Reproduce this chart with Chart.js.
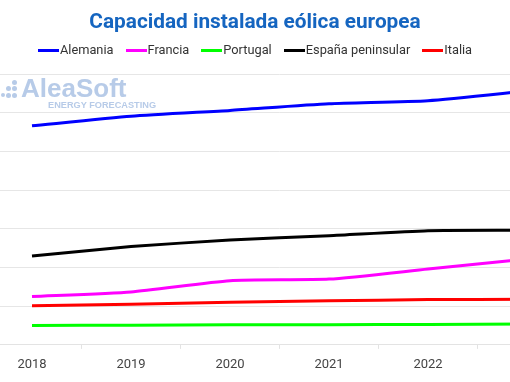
<!DOCTYPE html>
<html>
<head>
<meta charset="utf-8">
<script src="https://cdn.jsdelivr.net/npm/chart.js@4.4.0/dist/chart.umd.min.js"></script>
<style>
  html,body{margin:0;padding:0;background:#fff;}
  #wrap{position:relative;width:510px;height:382px;overflow:hidden;background:#fff;}
  #cv{position:absolute;left:-40px;top:0;}
  #title{position:absolute;left:0;top:8px;width:510px;text-align:center;font-family:Roboto,"Noto Sans",sans-serif;font-weight:700;font-size:20.8px;color:#1565c0;line-height:26px;}
  #legend{position:absolute;left:0;top:41px;width:510px;display:flex;justify-content:center;font-family:Roboto,"Noto Sans",sans-serif;font-size:12.8px;color:#333;line-height:18px;}
  .li{display:flex;align-items:center;margin:0 6px;}
  .sw{display:inline-block;width:21px;height:3px;margin-right:1px;}
  #logo{position:absolute;left:0;top:74px;color:#b7cbe8;font-family:"Liberation Sans",Arial,sans-serif;font-weight:700;}
  #logo .big{position:absolute;left:21px;top:0;font-size:26px;line-height:28px;white-space:nowrap;}
  #logo .small{position:absolute;left:48px;top:26px;font-size:9.2px;line-height:10px;white-space:nowrap;}
  .dot{position:absolute;width:5px;height:5px;border-radius:50%;background:#b7cbe8;}
</style>
</head>
<body>
<div id="wrap">
  <canvas id="cv" width="640" height="382"></canvas>
  <div id="logo">
    <div class="dot" style="left:1px;top:19px;width:4px;height:4px"></div>
    <div class="dot" style="left:6px;top:12px"></div>
    <div class="dot" style="left:6px;top:19px"></div>
    <div class="dot" style="left:12px;top:6px"></div>
    <div class="dot" style="left:12px;top:12px"></div>
    <div class="dot" style="left:12px;top:19px"></div>
    <div class="big">AleaSoft</div>
    <div class="small">ENERGY FORECASTING</div>
  </div>
  <div id="title">Capacidad instalada eólica europea</div>
  <div id="legend"></div>
</div>
<script>
const years = ["2018", "2019", "2020", "2021", "2022", "2023"];
const seriesNames = ["Alemania", "Francia", "Portugal", "España peninsular", "Italia"];
const seriesColors = ["#0000ff", "#ff00ff", "#00ff00", "#000000", "#ff0000"];
const alemania = [56600, 59100, 60600, 62300, 63100, 65600];
const francia = [12500, 13700, 16600, 17000, 19600, 22200];
const portugal = [5000, 5100, 5200, 5200, 5300, 5400];
const espana = [23000, 25400, 27100, 28200, 29500, 29600];
const italia = [10100, 10500, 11000, 11400, 11700, 11800];
const yMin = 0, yMax = 70000, yStep = 10000;

const allData = [alemania, francia, portugal, espana, italia];

const leg = document.getElementById('legend');
seriesNames.forEach((n, i) => {
  const d = document.createElement('div');
  d.className = 'li';
  d.innerHTML = '<span class="sw" style="background:' + seriesColors[i] + '"></span><span>' + n + '</span>';
  leg.appendChild(d);
});

new Chart(document.getElementById('cv'), {
  type: 'line',
  data: {
    labels: years,
    datasets: seriesNames.map((n, i) => ({
      label: n,
      data: allData[i],
      borderColor: seriesColors[i],
      backgroundColor: seriesColors[i],
      borderWidth: 3,
      pointRadius: 0,
      tension: 0.2,
      fill: false
    }))
  },
  options: {
    responsive: false,
    animation: false,
    layout: { padding: { left: 22.5, right: 23.5, top: 74, bottom: 1.5 } },
    plugins: { legend: { display: false }, title: { display: false }, tooltip: { enabled: false } },
    scales: {
      x: {
        offset: true,
        grid: { offset: true, drawOnChartArea: false, drawTicks: true, tickLength: 4, color: '#e3e3e3' },
        border: { display: true, color: '#e3e3e3', width: 1 },
        ticks: { padding: 8, color: '#444', font: { family: 'Roboto, "Noto Sans", sans-serif', size: 13 } }
      },
      y: {
        min: yMin, max: yMax,
        ticks: { display: false, stepSize: yStep },
        grid: { color: '#e6e6e6', drawTicks: false },
        border: { display: false }
      }
    }
  }
});
</script>
</body>
</html>
